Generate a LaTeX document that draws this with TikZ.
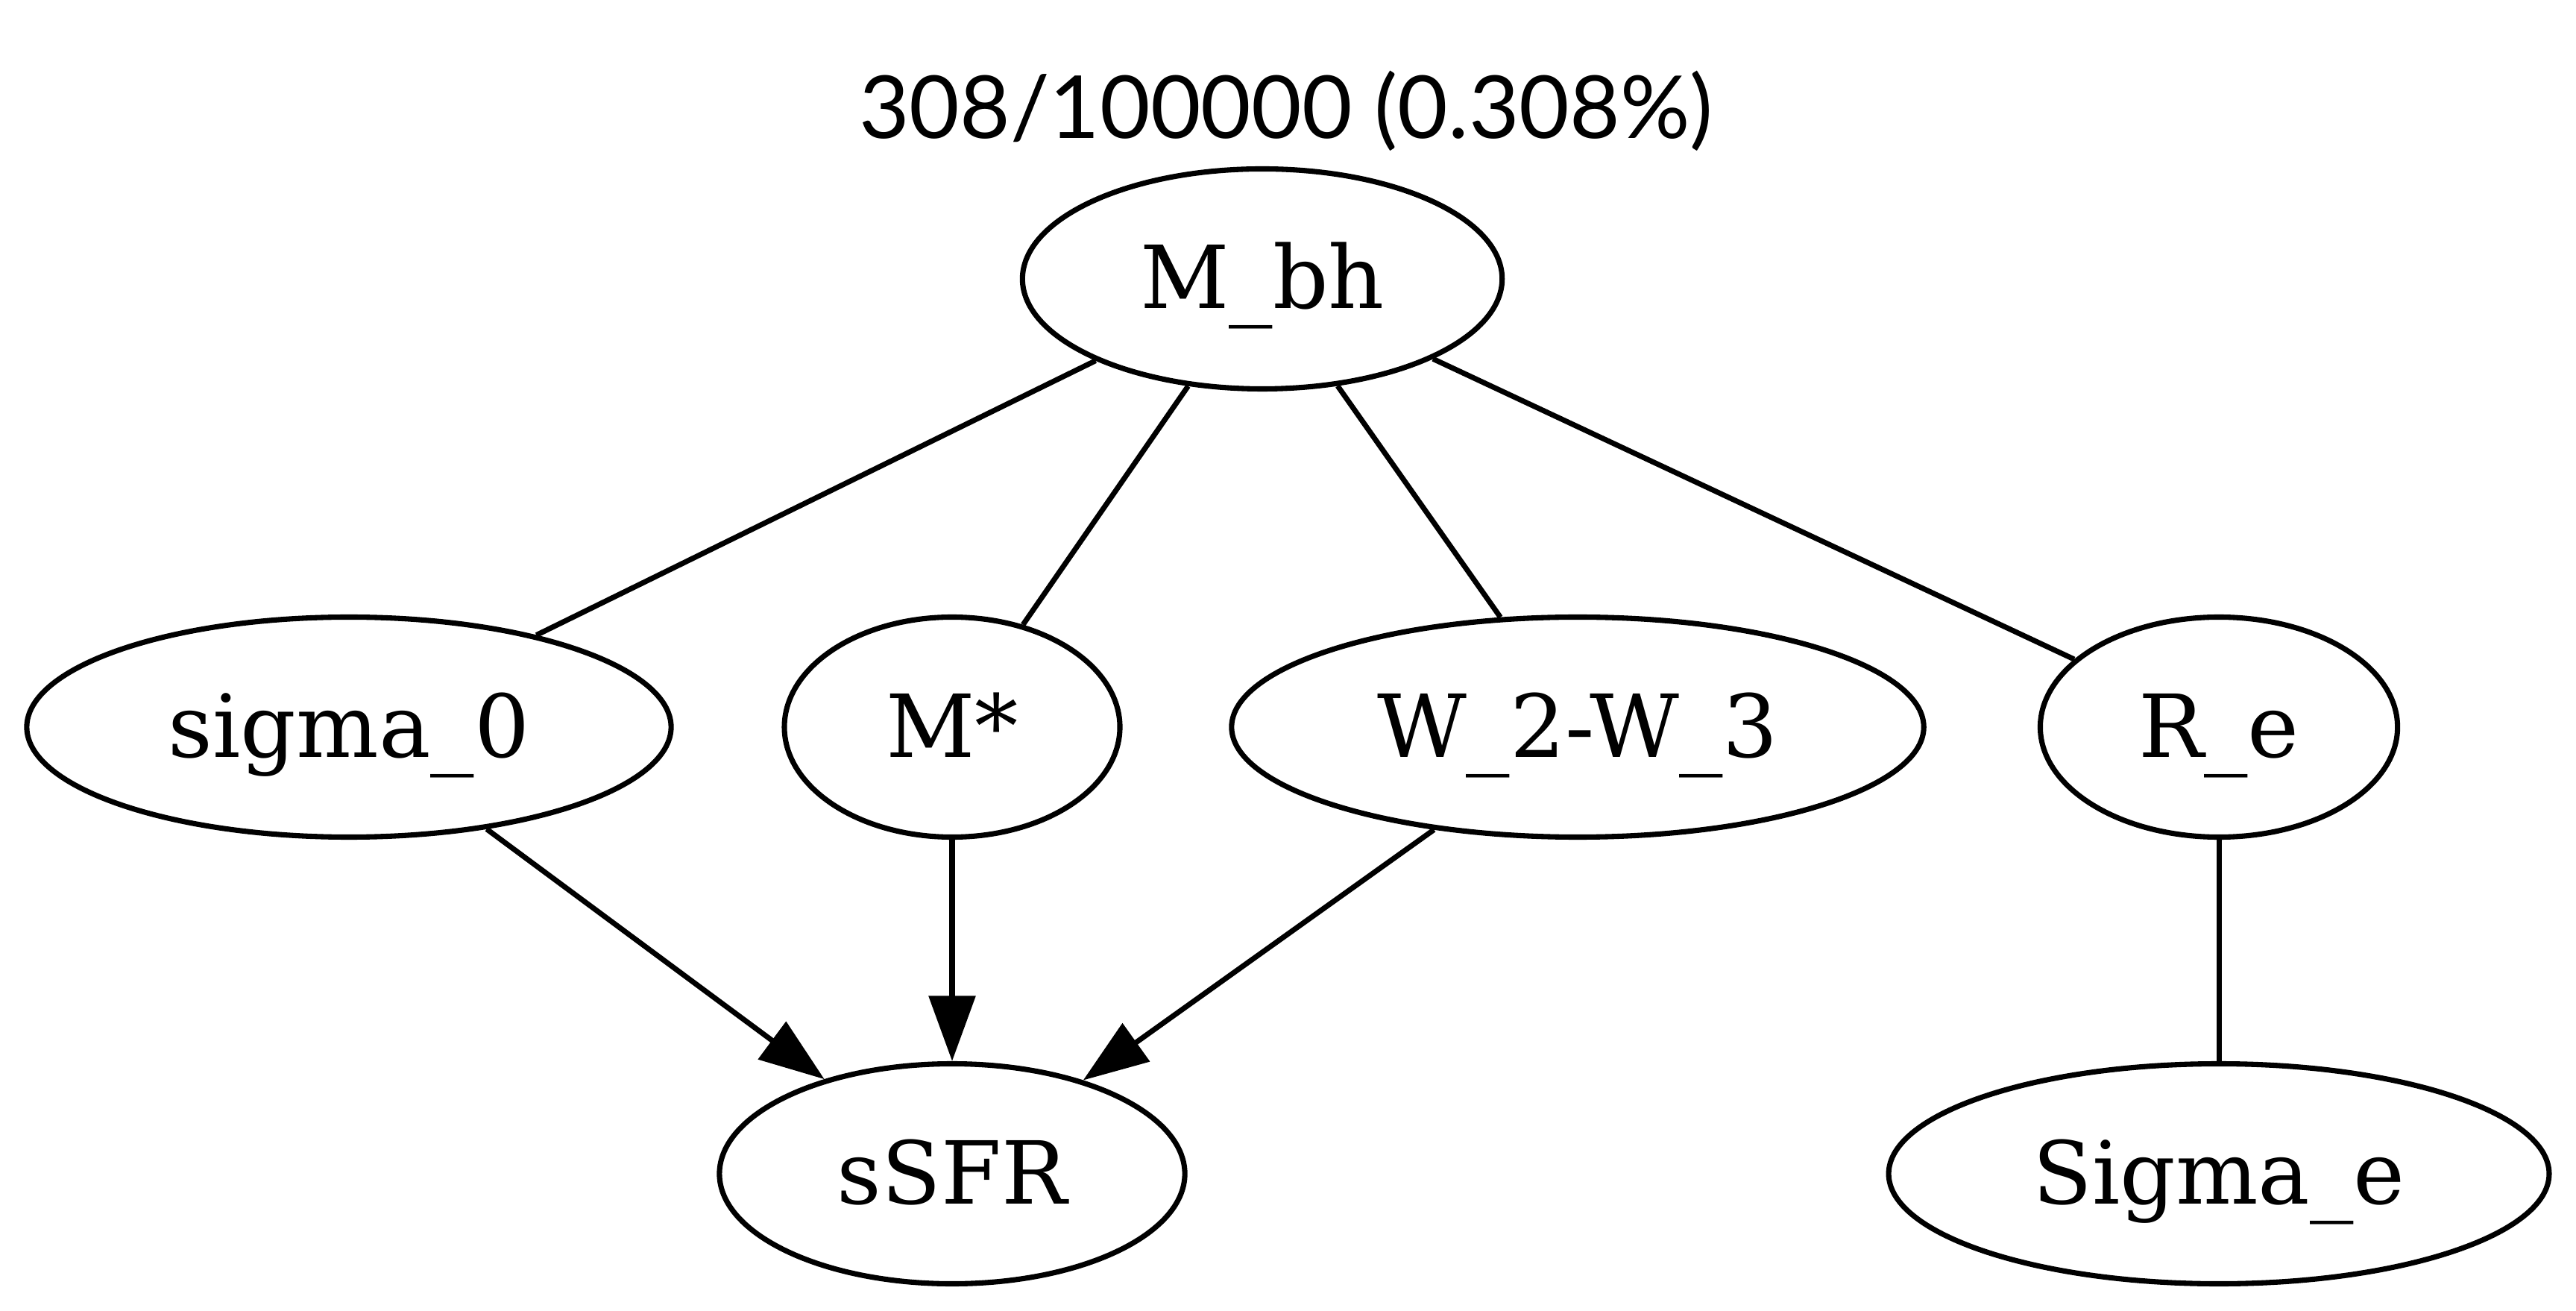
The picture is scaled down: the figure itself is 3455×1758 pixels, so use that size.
\documentclass[tikz,border=0pt]{standalone}
\usepackage{fontspec}
\setmainfont{DejaVu Serif}
\newfontfamily\titlefont{Lato}
\usetikzlibrary{arrows.meta,shapes.geometric}
\begin{document}
\begin{tikzpicture}[x=0.12pt,y=-0.12pt,
  gvnode/.style={draw, ellipse, line width=0.85pt, inner sep=0pt,
    minimum height=35.4pt, text height=9.6pt, text depth=0pt,
    font=\fontsize{14pt}{16pt}\selectfont},
  gvline/.style={line width=0.85pt},
  gvarrow/.style={line width=0.85pt, -{Triangle[length=10.5pt,width=7.4pt]}}]
\useasboundingbox[fill=white] (0,0) rectangle (3455,1758);
\node[font=\titlefont\fontsize{14pt}{16pt}\selectfont, anchor=base, inner sep=0pt] (title) at (1725,186) {308/100000 (0.308\%)};
\node[gvnode, minimum width=77.2pt] (mbh) at (1693,374) {M\_bh};
\node[gvnode, minimum width=103.7pt] (sigma) at (468,975) {sigma\_0};
\node[gvnode, minimum width=54pt] (mstar) at (1277,975) {M*};
\node[gvnode, minimum width=111.4pt] (w) at (2116,975) {W\_2-W\_3};
\node[gvnode, minimum width=57.5pt] (re) at (2976,975) {R\_e};
\node[gvnode, minimum width=74.9pt] (ssfr) at (1277,1574) {sSFR};
\node[gvnode, minimum width=106.3pt] (sige) at (2976,1574) {Sigma\_e};
\draw[gvline] (mbh) -- (sigma);
\draw[gvline] (mbh) -- (mstar);
\draw[gvline] (mbh) -- (w);
\draw[gvline] (mbh) -- (re);
\draw[gvline] (re) -- (sige);
\draw[gvarrow] (sigma) -- (ssfr);
\draw[gvarrow] (mstar) -- (ssfr);
\draw[gvarrow] (w) -- (ssfr);
\end{tikzpicture}
\end{document}
